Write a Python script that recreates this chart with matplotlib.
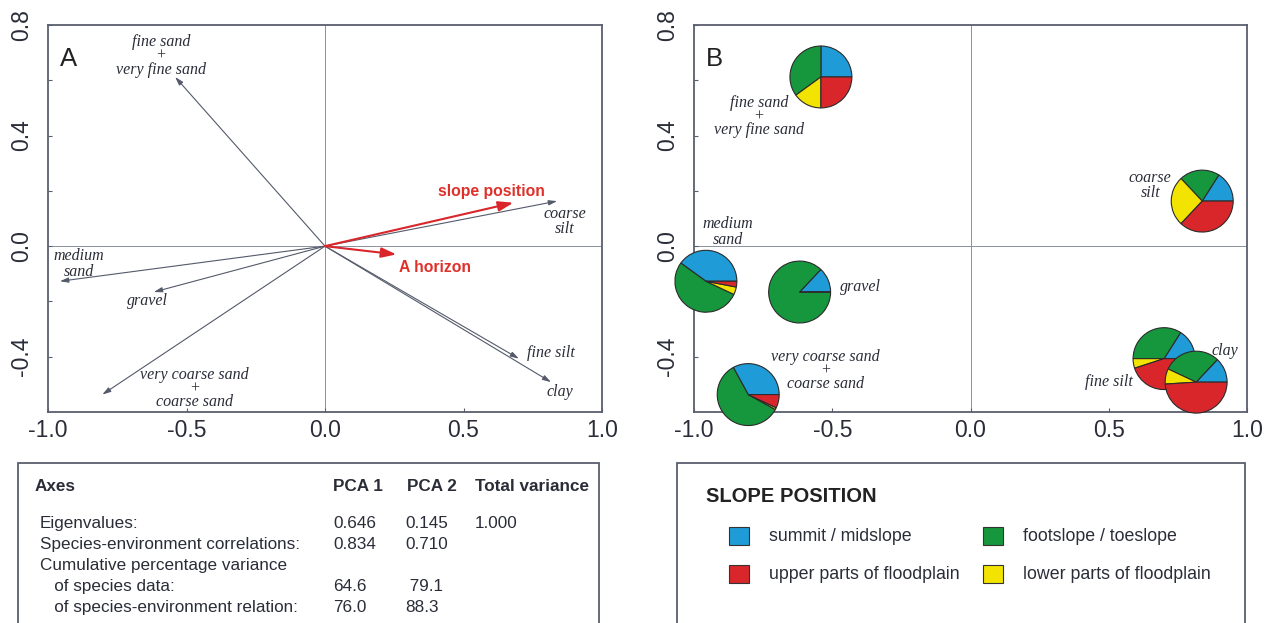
import numpy as np
import matplotlib.pyplot as plt
from matplotlib.patches import Rectangle

# soil texture vectors: scores on PCA axes 1 and 2
var_names = ["fine sand\n+\nvery fine sand", "coarse\nsilt", "medium\nsand", "gravel",
             "very coarse sand\n+\ncoarse sand", "fine silt", "clay"]
pca1 = [-0.541, 0.838, -0.957, -0.618, -0.804, 0.700, 0.816]
pca2 = [0.612, 0.163, -0.127, -0.166, -0.537, -0.407, -0.492]

# supplementary (red) vectors
supp_names = ["slope position", "A horizon"]
supp_pca1 = [0.680, 0.258]
supp_pca2 = [0.157, -0.030]

# share (%) of each slope position per texture class
pct_summit = [25, 16, 40, 13, 33, 16, 13]
pct_foot = [35, 21, 53, 87, 59, 34, 30]
pct_lower = [15, 26, 4, 0, 1, 5, 8]
pct_upper = [25, 37, 3, 0, 7, 45, 49]

# PCA summary table
tab_header = ["Axes", "PCA 1", "PCA 2", "Total variance"]
tab_rows = ["Eigenvalues:", "Species-environment correlations:", "Cumulative percentage variance",
            "   of species data:", "   of species-environment relation:"]
tab_pca1 = ["0.646", "0.834", "", "64.6", "76.0"]
tab_pca2 = ["0.145", "0.710", "", " 79.1", "88.3"]
tab_total = ["1.000", "", "", "", ""]

legend_labels = ["summit / midslope", "footslope / toeslope",
                 "upper parts of floodplain", "lower parts of floodplain"]

c_blue, c_green, c_yellow, c_red = "#1f9bd7", "#16973d", "#f2e400", "#d9262b"
frame_col = "#5a5f6e"
line_col = "#545a6a"
zero_col = "#8b90a0"
txt_col = "#2a2d38"
W, H = 1273, 623

# label positions in each panel (data units)
lab_pos_A = [(-0.593, 0.688), (0.867, 0.09), (-0.888, -0.064), (-0.64, -0.197),
             (-0.47, -0.516), (0.816, -0.386), (0.848, -0.527)]
lab_pos_B = [(-0.766, 0.47), (0.65, 0.22), (-0.877, 0.051), (-0.397, -0.149),
             (-0.526, -0.45), (0.499, -0.49), (0.92, -0.378)]
supp_lab_pos = [(0.60, 0.199), (0.398, -0.078)]

serif_it = dict(family="Liberation Serif", style="italic", fontsize=11.5, color=txt_col)

fig = plt.figure(figsize=(W / 100, H / 100), dpi=100)
plt.rcParams["font.family"] = ["Liberation Sans", "DejaVu Sans"]


def px_axes(x0, y0, x1, y1):
    return fig.add_axes([x0 / W, 1 - y1 / H, (x1 - x0) / W, (y1 - y0) / H])


def label_spacing(name):
    # "+" separated labels sit tighter than two-line labels
    return 0.8 if "+" in name else 0.95


def style_axes(ax, letter):
    ax.set_xlim(-1, 1)
    ax.set_ylim(-0.6, 0.8)
    ax.axhline(0, color=zero_col, lw=0.7, zorder=0)
    ax.axvline(0, color=zero_col, lw=0.7, zorder=0)
    ax.set_xticks([-1.0, -0.5, 0.0, 0.5, 1.0])
    ax.set_xticklabels(["-1.0", "-0.5", "0.0", "0.5", "1.0"], fontsize=16.5, color=txt_col)
    ax.set_yticks([-0.4, 0.0, 0.4, 0.8])
    ax.set_yticklabels(["-0.4", "0.0", "0.4", "0.8"], fontsize=16.5, color=txt_col,
                       rotation=90, va="center")
    ax.set_yticks([-0.2, 0.2, 0.6], minor=True)
    ax.tick_params(which="both", direction="in", length=3, color=frame_col, width=0.8)
    ax.tick_params(axis="x", pad=5)
    ax.tick_params(axis="y", pad=11)
    for sp in ax.spines.values():
        sp.set_color(frame_col)
        sp.set_linewidth(1.3)
    ax.text(-0.925, 0.676, letter, fontsize=18.5, color="#222222", ha="center", va="center")


# ---- panel A: biplot vectors ----
axA = px_axes(48, 25, 602, 412)
style_axes(axA, "A")
for i, name in enumerate(var_names):
    axA.annotate("", xy=(pca1[i], pca2[i]), xytext=(0, 0),
                 arrowprops=dict(arrowstyle="-|>,head_length=0.5,head_width=0.15",
                                 color=line_col, lw=0.8, shrinkA=0, shrinkB=0))
    lx, ly = lab_pos_A[i]
    axA.text(lx, ly, name, ha="center", va="center", linespacing=label_spacing(name), **serif_it)

for i, name in enumerate(supp_names):
    axA.annotate("", xy=(supp_pca1[i], supp_pca2[i]), xytext=(0, 0),
                 arrowprops=dict(arrowstyle="-|>,head_length=0.9,head_width=0.3",
                                 color=c_red, lw=1.5, shrinkA=0, shrinkB=0))
    lx, ly = supp_lab_pos[i]
    axA.text(lx, ly, name, ha="center", va="center", fontsize=11.3, fontweight="bold",
             color="#e0302a")

# ---- panel B: slope position pies ----
axB = px_axes(694, 25, 1247, 412)
style_axes(axB, "B")
for i, name in enumerate(var_names):
    sizes = [pct_summit[i], pct_foot[i], pct_lower[i], pct_upper[i]]
    wedges, _ = axB.pie(sizes, colors=[c_blue, c_green, c_yellow, c_red],
                        center=(pca1[i], pca2[i]), radius=0.112, startangle=0,
                        counterclock=True, frame=True,
                        wedgeprops=dict(edgecolor="#2b2b2b", linewidth=0.8))
    for w in wedges:
        w.set_clip_on(False)
        w.set_zorder(3 + i)
    lx, ly = lab_pos_B[i]
    axB.text(lx, ly, name, ha="center", va="center", linespacing=label_spacing(name),
             zorder=20, **serif_it)

for ax in (axA, axB):
    ax.set_xlim(-1, 1)
    ax.set_ylim(-0.6, 0.8)
    ax.set_aspect("auto")

# ---- table box ----
fig.add_artist(Rectangle((18 / W, -0.05), (599 - 18) / W, 1 - 463 / H + 0.05,
                         transform=fig.transFigure, fill=False, ec=frame_col, lw=1.3))
hdr_x = [35, 333, 407, 475]
for x, t in zip(hdr_x, tab_header):
    fig.text(x / W, 1 - 491 / H, t, fontsize=12.3, fontweight="bold", color=txt_col,
             va="baseline")
for r in range(len(tab_rows)):
    y = 1 - (528 + 21 * r) / H
    fig.text(40 / W, y, tab_rows[r], fontsize=12.3, color=txt_col, va="baseline")
    fig.text(333 / W, y, tab_pca1[r], fontsize=12.3, color=txt_col, va="baseline")
    fig.text(405 / W, y, tab_pca2[r], fontsize=12.3, color=txt_col, va="baseline")
    fig.text(475 / W, y, tab_total[r], fontsize=12.3, color=txt_col, va="baseline")

# ---- legend box ----
fig.add_artist(Rectangle((677 / W, -0.05), (1245 - 677) / W, 1 - 463 / H + 0.05,
                         transform=fig.transFigure, fill=False, ec=frame_col, lw=1.3))
fig.text(706 / W, 1 - 497 / H, "SLOPE POSITION", fontsize=14.5, fontweight="bold",
         color="#222222", va="center")
leg_cols = [c_blue, c_green, c_red, c_yellow]
for k, lab in enumerate(legend_labels):
    col, row = k % 2, k // 2
    sx = 729 + 254 * col
    sy = 536 + 38 * row
    fig.add_artist(Rectangle((sx / W, 1 - (sy + 9) / H), 20 / W, 18 / H,
                             transform=fig.transFigure, fc=leg_cols[k], ec="#333333", lw=0.8))
    fig.text((sx + 40) / W, 1 - (sy + 5) / H, lab, fontsize=12.8, color=txt_col,
             va="baseline")

plt.savefig("out.png", dpi=100)
